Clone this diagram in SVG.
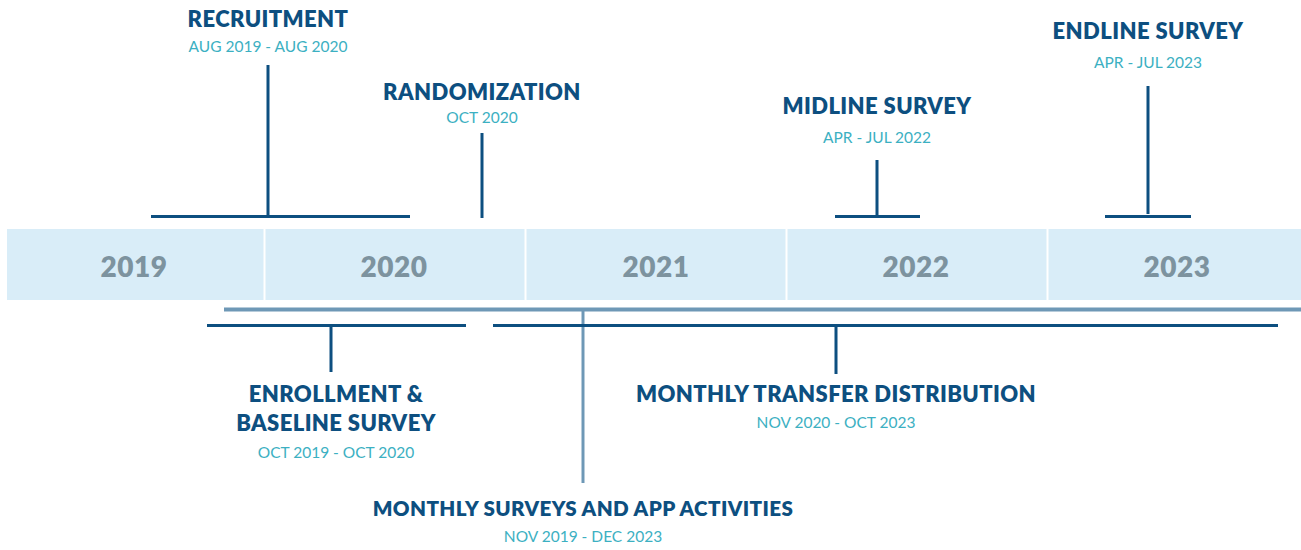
<svg xmlns="http://www.w3.org/2000/svg" width="1301" height="550" viewBox="0 0 1301 550">
<style>
.band{fill:#d9edf8}
.div{stroke:#ffffff;stroke-width:2}
.yr{font-family:"Lato","Open Sans",sans-serif;font-weight:800;font-size:28px;letter-spacing:0.5px;fill:#7d939f;text-anchor:middle}
.t{font-family:"Lato","Open Sans",sans-serif;font-weight:800;font-size:22px;letter-spacing:0.4px;fill:#0d4f80;text-anchor:middle}
.s{font-family:"Lato","Open Sans",sans-serif;font-weight:400;font-size:15.5px;fill:#3cb0c2;text-anchor:middle}
.dk{stroke:#0d4f80;stroke-width:3;fill:none}
.lt{stroke:#6e98b6;fill:none}
</style>
<rect width="1301" height="550" fill="#ffffff"/>
<g id="band">
<rect class="band" x="7" y="229" width="1294" height="71"/>
<line class="div" x1="264.5" y1="229" x2="264.5" y2="300"/>
<line class="div" x1="525.5" y1="229" x2="525.5" y2="300"/>
<line class="div" x1="786.5" y1="229" x2="786.5" y2="300"/>
<line class="div" x1="1047.5" y1="229" x2="1047.5" y2="300"/>
<text class="yr" x="134" y="277">2019</text>
<text class="yr" x="394" y="277">2020</text>
<text class="yr" x="656" y="277">2021</text>
<text class="yr" x="916" y="277">2022</text>
<text class="yr" x="1177" y="277">2023</text>
</g>
<g id="connectors">
<path class="dk" d="M151 216.5H410M268 65V216.5"/>
<path class="dk" d="M482 133V218"/>
<path class="dk" d="M835 216.5H920M877 160V216.5"/>
<path class="dk" d="M1105 216.5H1191M1148 86V214"/>
<path class="lt" stroke-width="4" d="M224 309.5H1301"/>
<path class="lt" stroke-width="3" d="M583 309.5V483"/>
<path class="dk" d="M207 325.5H466M331 325.5V372"/>
<path class="dk" d="M493 325.5H1278M836 325.5V374"/>
</g>
<g id="recruitment">
<text class="t" x="268" y="27">RECRUITMENT</text>
<text class="s" x="268" y="52">AUG 2019 - AUG 2020</text>
</g>
<g id="randomization">
<text class="t" x="482" y="100">RANDOMIZATION</text>
<text class="s" x="482" y="123">OCT 2020</text>
</g>
<g id="midline">
<text class="t" x="877" y="114">MIDLINE SURVEY</text>
<text class="s" x="877" y="143">APR - JUL 2022</text>
</g>
<g id="endline">
<text class="t" x="1148" y="39">ENDLINE SURVEY</text>
<text class="s" x="1148" y="68">APR - JUL 2023</text>
</g>
<g id="enrollment">
<text class="t" x="336" y="402">ENROLLMENT &amp;</text>
<text class="t" x="336" y="431">BASELINE SURVEY</text>
<text class="s" x="336" y="458">OCT 2019 - OCT 2020</text>
</g>
<g id="transfer">
<text class="t" x="836" y="402">MONTHLY TRANSFER DISTRIBUTION</text>
<text class="s" x="836" y="428">NOV 2020 - OCT 2023</text>
</g>
<g id="surveys">
<text class="t" x="583" y="516" style="font-size:20.6px">MONTHLY SURVEYS AND APP ACTIVITIES</text>
<text class="s" x="583" y="542">NOV 2019 - DEC 2023</text>
</g>
</svg>
